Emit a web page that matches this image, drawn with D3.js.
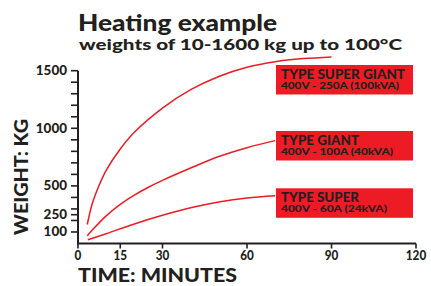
<!DOCTYPE html>
<html><head><meta charset="utf-8">
<script src="https://cdn.jsdelivr.net/npm/d3@7"></script>
<style>
html,body{margin:0;padding:0;background:#fff;}
svg{display:block;}
text{font-family:Lato,"Open Sans",sans-serif;font-weight:900;fill:#231f20;}
</style></head>
<body>
<script>
// ---- data ----
const superGiantT = [3.3, 5, 7.5, 10, 15, 20, 30, 40, 50, 60, 70, 80, 90];
const superGiantW = [165, 340, 505, 635, 820, 965, 1175, 1335, 1450, 1530, 1578, 1605, 1620];
const giantT = [3.3, 5, 10, 15, 20, 25, 30, 40, 50, 60, 70];
const giantW = [68, 115, 240, 340, 420, 488, 548, 655, 755, 832, 893];
const superT = [3.5, 10, 20, 30, 40, 50, 60, 70];
const superW = [32, 85, 170, 245, 310, 360, 395, 415];
const typeNames = ["TYPE SUPER GIANT", "TYPE GIANT", "TYPE SUPER"];
const typeSpecs = ["400V - 250A (100kVA)", "400V - 100A (40kVA)", "400V - 60A (24kVA)"];
const xTicks = [0, 15, 30, 60, 90, 120];
const yLabelTicks = [100, 250, 500, 1000, 1500];
const yMinorTicks = [100, 200, 250, 300, 400, 500, 600, 700, 800, 900, 1000, 1100, 1200, 1300, 1400, 1500];
const titleText = "Heating example";
const subtitleText = "weights of 10-1600 kg up to 100°C";
const xTitle = "TIME: MINUTES";
const yTitle = "WEIGHT: KG";

// ---- layout ----
const W = 431, H = 286;
const red = "#ed1c24", ink = "#231f20";
const svg = d3.select("body").append("svg").attr("width", W).attr("height", H);

const x = d3.scaleLinear().domain([0, 120]).range([78, 416]);
const y = d3.scaleLinear().domain([0, 1500]).range([243.5, 70.7]);

// titles
svg.append("text").attr("x", 78).attr("y", 31).attr("font-size", 23)
  .attr("textLength", 199).attr("lengthAdjust", "spacingAndGlyphs").text(titleText);
svg.append("text").attr("x", 79).attr("y", 50).attr("font-size", 15.5)
  .attr("textLength", 323).attr("lengthAdjust", "spacingAndGlyphs").text(subtitleText);

// y axis
const yAxis = svg.append("g").attr("transform", `translate(${x(0)},0)`);
yAxis.append("line").attr("x1", 0).attr("x2", 0).attr("y1", y(1500)).attr("y2", y(0))
  .attr("stroke", ink).attr("stroke-width", 2);
yAxis.selectAll("line.tk").data(yMinorTicks).join("line").attr("class", "tk")
  .attr("x1", -7).attr("x2", 0).attr("y1", d => y(d)).attr("y2", d => y(d))
  .attr("stroke", ink).attr("stroke-width", 1.6);
yAxis.selectAll("text").data(yLabelTicks).join("text")
  .attr("x", -11).attr("y", d => y(d)).attr("dy", "0.36em")
  .attr("text-anchor", "end").attr("font-size", 12.5)
  .attr("textLength", d => String(d).length * 7.8).attr("lengthAdjust", "spacingAndGlyphs")
  .text(d => d);

// x axis
const xAxis = svg.append("g").attr("transform", `translate(0,${y(0)})`);
xAxis.append("line").attr("x1", x(0) - 1).attr("x2", x(120)).attr("y1", 0).attr("y2", 0)
  .attr("stroke", ink).attr("stroke-width", 2);
xAxis.selectAll("line.tk").data(xTicks).join("line").attr("class", "tk")
  .attr("x1", d => x(d)).attr("x2", d => x(d)).attr("y1", 0).attr("y2", 5)
  .attr("stroke", ink).attr("stroke-width", 1.6);
xAxis.selectAll("text").data(xTicks).join("text")
  .attr("x", d => x(d)).attr("y", 16.5).attr("text-anchor", "middle").attr("font-size", 12.5)
  .attr("textLength", d => String(d).length * 6.8).attr("lengthAdjust", "spacingAndGlyphs")
  .text(d => d);

// axis titles
svg.append("text").attr("x", 78).attr("y", 282).attr("font-size", 18)
  .attr("textLength", 159).attr("lengthAdjust", "spacingAndGlyphs").text(xTitle);
svg.append("text").attr("transform", "translate(28,177) rotate(-90)")
  .attr("text-anchor", "middle").attr("font-size", 19)
  .attr("textLength", 116).attr("lengthAdjust", "spacingAndGlyphs").text(yTitle);

// curves
const series = [
  {t: superGiantT, w: superGiantW},
  {t: giantT, w: giantW},
  {t: superT, w: superW}
];
const line = d3.line().x(d => x(d[0])).y(d => y(d[1])).curve(d3.curveCatmullRom.alpha(0.5));
svg.selectAll("path.curve").data(series).join("path").attr("class", "curve")
  .attr("d", s => line(s.t.map((t, i) => [t, s.w[i]])))
  .attr("fill", "none").attr("stroke", red).attr("stroke-width", 1.5);

// label boxes
const boxTops = [65, 131, 188.3];
const nameWidths = [124, 78, 78];
const specWidths = [118, 112, 106];
const boxes = svg.selectAll("g.box").data(typeNames).join("g").attr("class", "box")
  .attr("transform", (d, i) => `translate(276,${boxTops[i]})`);
boxes.append("rect").attr("width", 137).attr("height", 29.5).attr("fill", red);
boxes.append("text").attr("x", 5).attr("y", 13.5).attr("font-size", 12.5)
  .attr("textLength", (d, i) => nameWidths[i]).attr("lengthAdjust", "spacingAndGlyphs")
  .text(d => d);
boxes.append("text").attr("x", 5).attr("y", 24).attr("font-size", 9)
  .attr("textLength", (d, i) => specWidths[i]).attr("lengthAdjust", "spacingAndGlyphs")
  .text((d, i) => typeSpecs[i]);
</script>
</body></html>
